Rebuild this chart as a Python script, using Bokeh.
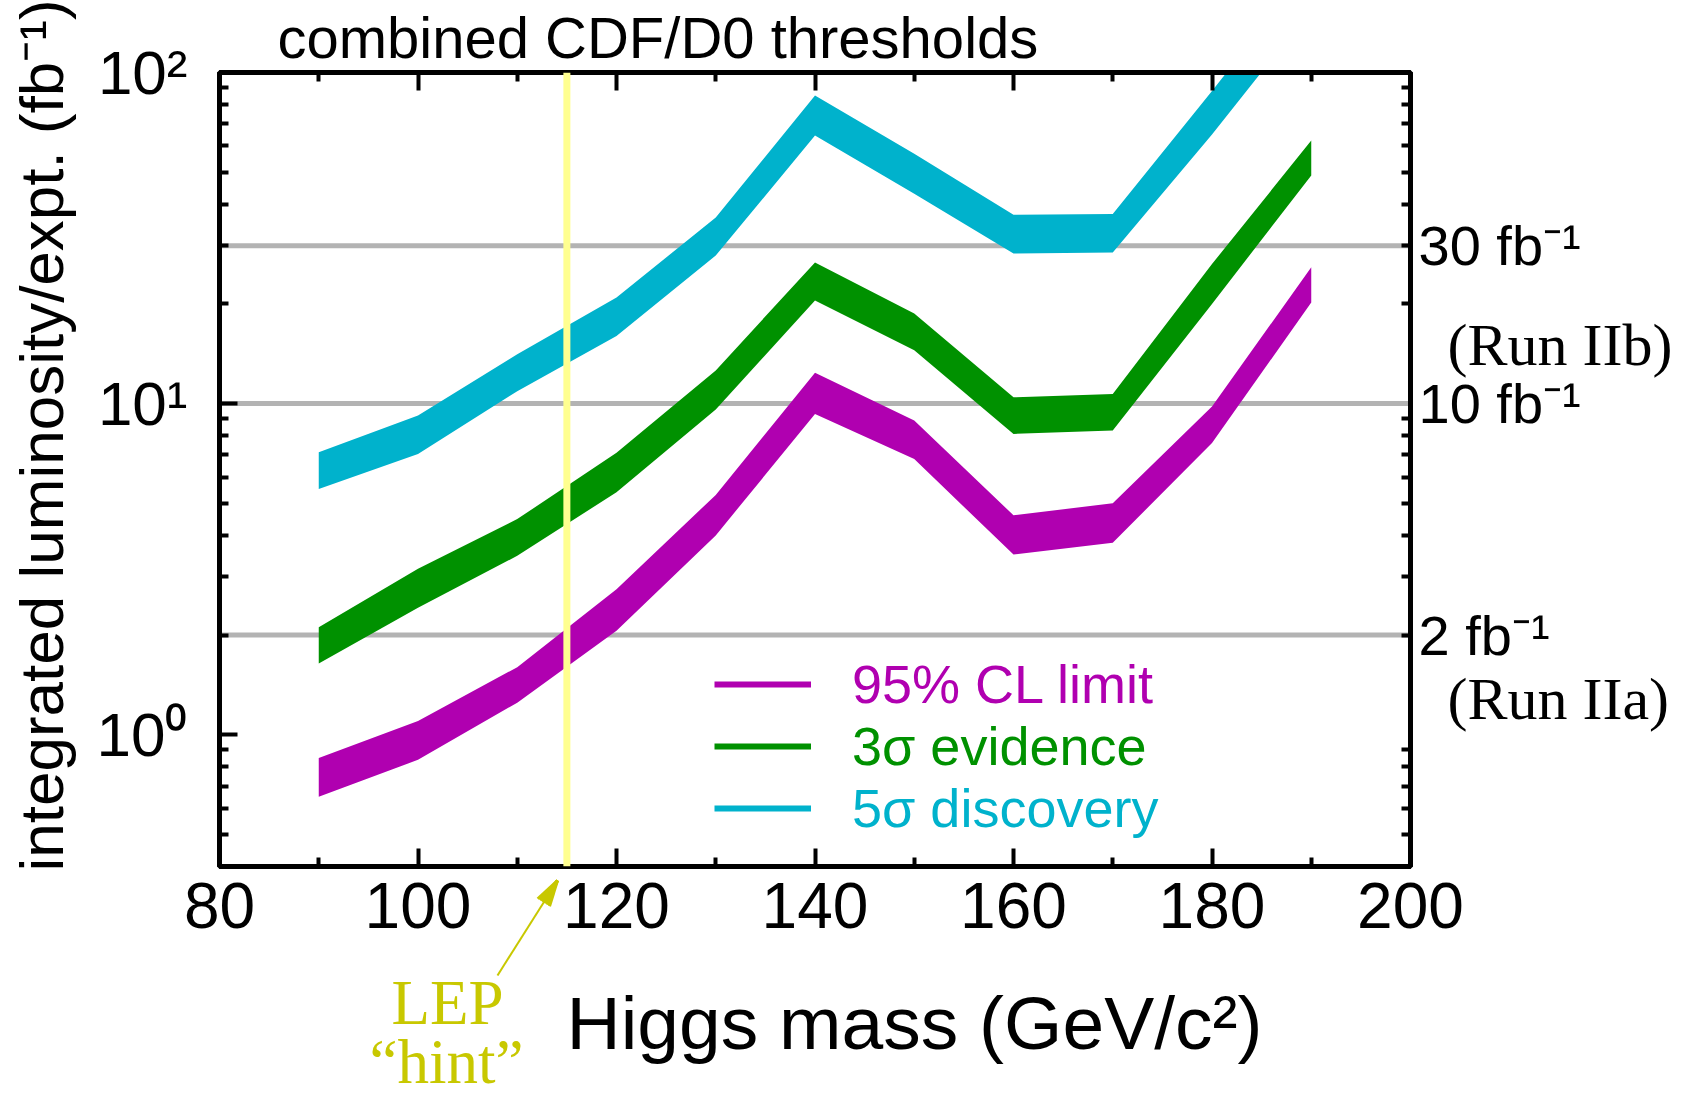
import math
from bokeh.plotting import figure
from bokeh.models import (FixedTicker, LinearAxis, LogAxis, Span, Arrow, Title,
                          NormalHead, Legend, LegendItem, ColumnDataSource, Range1d)
from bokeh.embed import file_html
from bokeh.resources import INLINE

# ---------------- data ----------------
higgs_mass = [90, 100, 110, 120, 130, 140, 150, 160, 170, 180, 190]

cl95_upper = [0.85, 1.10, 1.60, 2.75, 5.3, 12.4, 8.9, 4.6, 5.0, 9.8, 25.8]
cl95_lower = [0.65, 0.84, 1.25, 2.06, 4.0, 9.3, 6.8, 3.5, 3.8, 7.6, 20.2]

evid3_upper = [2.11, 3.17, 4.48, 7.1, 12.6, 26.7, 18.7, 10.45, 10.7, 26.4, 62.3]
evid3_lower = [1.64, 2.42, 3.47, 5.4, 9.6, 20.5, 14.5, 8.1, 8.3, 20.0, 48.9]

disc5_upper = [7.13, 9.2, 14.1, 20.9, 36.5, 85.2, 56.8, 37.2, 37.4, 88.0, 210.0]
disc5_lower = [5.52, 7.05, 10.9, 16.0, 28.0, 64.5, 43.0, 28.4, 28.6, 65.0, 155.0]

series_names = ["95% CL limit", "3\u03c3 evidence", "5\u03c3 discovery"]
series_colors = ["#b000b0", "#009100", "#00b2cc"]

grid_lumis = [2, 10, 30]
grid_labels = {2: "2 fb\u207b\u00b9", 10: "10 fb\u207b\u00b9", 30: "30 fb\u207b\u00b9"}
run_label_lumis = [15.0, 1.285]
run_labels = {15.0: "(Run IIb)", 1.285: "(Run IIa)"}
lep_hint_mass = 115
lep_line1 = "LEP"
lep_line2 = "\u201chint\u201d"

x_ticks = [80, 100, 120, 140, 160, 180, 200]
x_minor = [90, 110, 130, 150, 170, 190]
y_ticks = [1, 10, 100]
y_minor = [0.4, 0.5, 0.6, 0.7, 0.8, 0.9, 2, 3, 4, 5, 6, 7, 8, 9,
           20, 30, 40, 50, 60, 70, 80, 90]
y_tick_labels = {1: "10\u2070", 10: "10\u00b9", 100: "10\u00b2"}

title_text = "combined CDF/D0 thresholds"
x_label_text = "Higgs mass (GeV/c\u00b2)"
y_label_text = "integrated luminosity/expt. (fb\u207b\u00b9)"

# ---------------- figure ----------------
SANS = "Liberation Sans"
SERIF = "Liberation Serif"
FL, FT, FW, FH = 219, 72, 1191, 794   # frame placement (px)
W, H = 1691, 1098
HINT = "#c8c800"
BELOW_TOP = 931                        # top of the title slots under the x axis

p = figure(width=W, height=H, x_range=Range1d(80, 200), y_range=Range1d(0.4, 100),
           y_axis_type="log", output_backend="svg", toolbar_location=None,
           min_border_left=FL, min_border_right=W - FL - FW, min_border_top=FT,
           min_border_bottom=H - FT - FH,
           background_fill_color="white", border_fill_color="white")
p.xgrid.visible = False
p.ygrid.visible = False
p.outline_line_color = "black"
p.outline_line_width = 5

def style_axis(ax):
    ax.axis_line_width = 5
    ax.axis_line_color = "black"
    ax.major_tick_line_width = 4
    ax.minor_tick_line_width = 4
    ax.major_tick_in = 18
    ax.major_tick_out = 0
    ax.minor_tick_in = 9
    ax.minor_tick_out = 0
    ax.major_label_text_color = "black"

xax = p.xaxis[0]
xax.ticker = FixedTicker(ticks=x_ticks, minor_ticks=x_minor)
style_axis(xax)
xax.major_label_text_font = SANS
xax.major_label_text_font_size = "64px"
xax.major_label_standoff = 16

yax = p.yaxis[0]
yax.ticker = FixedTicker(ticks=y_ticks, minor_ticks=y_minor)
style_axis(yax)
yax.major_label_overrides = y_tick_labels
yax.major_label_text_font = SANS
yax.major_label_text_font_size = "62px"
yax.major_label_standoff = 32

top_ax = LinearAxis(ticker=FixedTicker(ticks=x_ticks, minor_ticks=x_minor))
style_axis(top_ax)
top_ax.major_label_overrides = {t: "" for t in x_ticks}
top_ax.major_label_standoff = 0
p.add_layout(top_ax, "above")

right_ax = LogAxis(ticker=FixedTicker(ticks=grid_lumis, minor_ticks=y_minor))
style_axis(right_ax)
right_ax.major_tick_in = 0
right_ax.major_label_overrides = grid_labels
right_ax.major_label_text_font = SANS
right_ax.major_label_text_font_size = "56px"
right_ax.major_label_standoff = 8
p.add_layout(right_ax, "right")

# second right-hand text column: Run IIa / Run IIb notes
run_ax = LogAxis(ticker=FixedTicker(ticks=run_label_lumis, minor_ticks=[]))
run_ax.axis_line_color = None
run_ax.major_tick_line_color = None
run_ax.minor_tick_line_color = None
run_ax.major_label_overrides = run_labels
run_ax.major_label_text_font = SERIF
run_ax.major_label_text_font_size = "60px"
run_ax.major_label_text_color = "black"
run_ax.major_label_standoff = -142
p.add_layout(run_ax, "right")

# title (above)
p.title = Title(text=title_text, align="left", offset=58, text_font=SANS,
                text_font_size="58px", text_font_style="normal", text_color="black",
                standoff=5)
# y label (left)
p.add_layout(Title(text=y_label_text, align="left", offset=-5, vertical_align="top",
                   text_font=SANS, text_font_size="62px", text_font_style="normal",
                   text_color="black", standoff=-174), "left")

def below_title(text, bottom_px, **kw):
    # text box bottom placed at bottom_px (slot collapses to zero height)
    return Title(text=text, vertical_align="bottom", text_font_style="normal",
                 standoff=-2 * (bottom_px - BELOW_TOP), **kw)

# x label (below)
p.add_layout(below_title(x_label_text, 1065, align="left", offset=347, text_font=SANS,
                         text_font_size="75px", text_color="black"), "below")
# LEP "hint" note (below), two lines right-aligned
p.add_layout(below_title(lep_line1, 1038, align="right", offset=FL + FW - 503,
                         text_font=SERIF, text_font_size="63px", text_color=HINT), "below")
p.add_layout(below_title(lep_line2, 1097, align="right", offset=FL + FW - 523,
                         text_font=SERIF, text_font_size="63px", text_color=HINT), "below")

# gridlines at the luminosity milestones
for lv in grid_lumis:
    p.add_layout(Span(location=lv, dimension="width", line_color="#b3b3b3",
                      line_width=5, level="underlay"))

# bands
src = ColumnDataSource(dict(m=higgs_mass,
                            l1=cl95_lower, u1=cl95_upper,
                            l2=evid3_lower, u2=evid3_upper,
                            l3=disc5_lower, u3=disc5_upper))
p.varea(x="m", y1="l3", y2="u3", source=src, fill_color=series_colors[2])
p.varea(x="m", y1="l2", y2="u2", source=src, fill_color=series_colors[1])
p.varea(x="m", y1="l1", y2="u1", source=src, fill_color=series_colors[0])

# LEP hint line
p.add_layout(Span(location=lep_hint_mass, dimension="height", line_color="#ffff90",
                  line_width=7, level="annotation"))

# legends (one per series so each label gets its own colour)
legend_bottoms = [151, 89, 27]
for name, col, yb in zip(series_names, series_colors, legend_bottoms):
    r = p.line(x=[float("nan")], y=[float("nan")], line_color=col, line_width=6)
    lg = Legend(items=[LegendItem(label=name, renderers=[r])], location=(495, yb),
                label_text_color=col, label_text_font=SANS, label_text_font_size="54px",
                glyph_width=97, glyph_height=40, label_height=40, label_standoff=41,
                padding=0, margin=0, spacing=0, border_line_color=None,
                background_fill_alpha=0)
    p.add_layout(lg)

# arrow from the LEP note to the hint line (pixel -> data helpers)
DEC = FH / math.log10(100 / 0.4)

def xd(px):
    return 80 + 120 * (px - FL) / FW

def yd(py):
    return 10 ** ((FT + 2 * DEC - py) / DEC)

tail = (497.0, 975.0)
tip = (557.0, 880.0)
dx, dy = tip[0] - tail[0], tip[1] - tail[1]
L = math.hypot(dx, dy)
ux, uy = dx / L, dy / L
nx, ny = -uy, ux

def seg(x0, y0, x1, y1, width, cover):
    p.add_layout(Arrow(end=NormalHead(size=cover, fill_alpha=0, line_alpha=0),
                       x_start=xd(x0), y_start=yd(y0), x_end=xd(x1), y_end=yd(y1),
                       line_color=HINT, line_width=width))

# shaft
seg(tail[0], tail[1], tip[0] - 20 * ux, tip[1] - 20 * uy, 2, L + 8)
# filled head approximated by a fan of strokes
bx, by = tip[0] - 26 * ux, tip[1] - 26 * uy
for k in (-7.0, -4.5, -2.0, 0.0, 2.0, 4.5, 7.0):
    seg(bx + k * nx, by + k * ny, tip[0], tip[1], 3, 36)

open("out.html", "w").write(file_html(p, INLINE))
